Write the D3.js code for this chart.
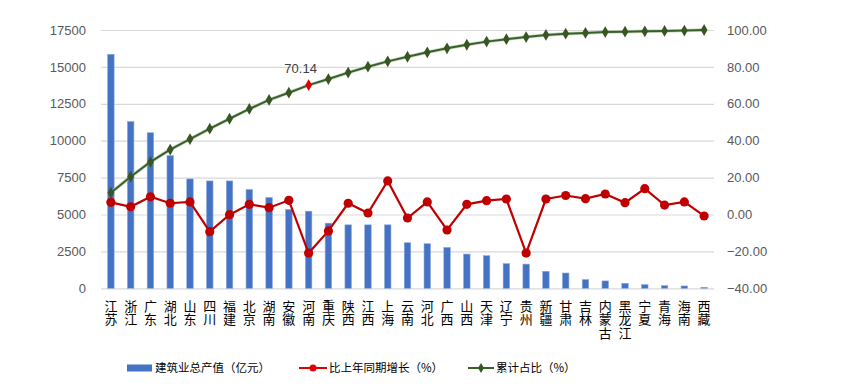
<!DOCTYPE html>
<html><head><meta charset="utf-8">
<script src="https://cdn.jsdelivr.net/npm/d3@7"></script>
<style>
body{margin:0;background:#fff;}
svg{display:block;}
</style></head>
<body><svg id="c" width="850" height="391"></svg>
<script>
const categories = ["江苏","浙江","广东","湖北","山东","四川","福建","北京","湖南","安徽","河南","重庆","陕西","江西","上海","云南","河北","广西","山西","天津","辽宁","贵州","新疆","甘肃","吉林","内蒙古","黑龙江","宁夏","青海","海南","西藏"];
const output = [15855,11300,10540,8986,7410,7275,7275,6690,6150,5340,5224,4412,4300,4300,4300,3087,3020,2770,2320,2210,1670,1640,1150,1035,590,500,340,250,180,160,70];
const growth = [6.6,4.2,9.6,6.1,6.8,-9.3,-0.1,5.5,3.7,7.7,-20.9,-8.9,6.1,0.8,18.2,-1.9,6.8,-8.4,5.5,7.5,8.4,-20.9,8.4,10.3,8.6,11.1,6.4,14.0,5.1,6.8,-0.8];
const cumShare = [11.8,20.5,28.5,35.2,40.9,46.5,51.9,57.2,62.1,66.0,70.14,73.4,76.9,80.1,83.0,85.5,87.9,90.1,92.0,93.7,95.0,96.2,97.3,98.0,98.4,98.9,99.1,99.3,99.5,99.7,100.0];
const leftTicks = [0,2500,5000,7500,10000,12500,15000,17500];
const rightTicks = [-40,-20,0,20,40,60,80,100];
const legendLabels = ["建筑业总产值（亿元）","比上年同期增长（%）","累计占比（%）"];
const highlightIndex = 10;

const svg = d3.select("#c");
const numFont = "'Liberation Sans', Arial, sans-serif";
const cjkFont = "'Noto Sans CJK SC', sans-serif";
const L = 101, R = 714, T = 30, B = 288.3;

const x = d3.scaleBand().domain(categories).range([L, R]).padding(0);
const yL = d3.scaleLinear().domain([0, 17500]).range([B, T]);
const yR = d3.scaleLinear().domain([-40, 100]).range([B, T]);
const cx = d => x(d) + x.bandwidth() / 2;

// gridlines
const grid = svg.append("g").attr("transform", `translate(${L},0)`)
  .call(d3.axisLeft(yL).tickValues(leftTicks).tickSize(-(R - L)).tickFormat(""));
grid.select(".domain").remove();
grid.selectAll("line").attr("stroke", "#d9d9d9").attr("stroke-width", 1.2);

// left axis
const ax = svg.append("g").attr("transform", `translate(${L},0)`)
  .call(d3.axisLeft(yL).tickValues(leftTicks).tickSize(0).tickPadding(15).tickFormat(d3.format("d")));
ax.select(".domain").remove();
ax.selectAll("text").attr("font-family", numFont).attr("font-size", 13).attr("fill", "#595959");

// right axis
const ar = svg.append("g").attr("transform", `translate(${R},0)`)
  .call(d3.axisRight(yR).tickValues(rightTicks).tickSize(0).tickPadding(13).tickFormat(d3.format(".2f")));
ar.select(".domain").remove();
ar.selectAll("text").attr("font-family", numFont).attr("font-size", 13).attr("fill", "#595959");

// bars
const bw = 6.5;
svg.append("g").selectAll("rect").data(categories).join("rect")
  .attr("x", (d) => cx(d) - bw / 2)
  .attr("width", bw)
  .attr("y", (d, i) => yL(output[i]))
  .attr("height", (d, i) => B - yL(output[i]))
  .attr("fill", "#4472c4")
  .attr("stroke", "#8eaadb").attr("stroke-width", 0.6);

// growth line
const lineG = d3.line().x((d, i) => cx(categories[i])).y(d => yR(d));
svg.append("path").datum(growth).attr("d", lineG)
  .attr("fill", "none").attr("stroke", "#c00000").attr("stroke-width", 2.2);
svg.append("g").selectAll("circle").data(growth).join("circle")
  .attr("cx", (d, i) => cx(categories[i])).attr("cy", d => yR(d)).attr("r", 4.6)
  .attr("fill", "#c00000");

// cumulative line
svg.append("path").datum(cumShare).attr("d", lineG)
  .attr("fill", "none").attr("stroke", "#a9c29a").attr("stroke-width", 3.5).attr("opacity", 0.6);
svg.append("path").datum(cumShare).attr("d", lineG)
  .attr("fill", "none").attr("stroke", "#38602a").attr("stroke-width", 2);
const diamond = d3.symbol().type(d3.symbolDiamond).size(40);
svg.append("g").selectAll("path").data(cumShare).join("path")
  .attr("d", diamond)
  .attr("transform", (d, i) => `translate(${cx(categories[i])},${yR(d)})`)
  .attr("fill", (d, i) => i === highlightIndex ? "#e00000" : "#375623");

svg.append("text")
  .attr("x", cx(categories[highlightIndex]) - 8)
  .attr("y", yR(cumShare[highlightIndex]) - 12.5)
  .attr("text-anchor", "middle")
  .attr("font-family", numFont).attr("font-size", 13).attr("fill", "#404040")
  .text(d3.format(".2f")(cumShare[highlightIndex]));

// x labels (vertical writing mode)
svg.append("g").selectAll("text").data(categories).join("text")
  .attr("x", d => cx(d)).attr("y", 299.5)
  .style("writing-mode", "vertical-rl")
  .style("text-orientation", "upright")
  .attr("text-anchor", "start")
  .attr("font-family", cjkFont).attr("font-size", 13).attr("fill", "#000")
  .attr("letter-spacing", 0.3)
  .text(d => d);

// legend
const lg = svg.append("g").attr("font-family", cjkFont).attr("font-size", 11.5).attr("fill", "#000");
lg.append("rect").attr("x", 127).attr("y", 364.5).attr("width", 25).attr("height", 7).attr("fill", "#4472c4");
lg.append("text").attr("x", 155).attr("y", 372).text(legendLabels[0]);
lg.append("line").attr("x1", 299).attr("x2", 327).attr("y1", 368).attr("y2", 368).attr("stroke", "#e00000").attr("stroke-width", 2);
lg.append("circle").attr("cx", 313).attr("cy", 368).attr("r", 3.5).attr("fill", "#e00000");
lg.append("text").attr("x", 329).attr("y", 372).text(legendLabels[1]);
lg.append("line").attr("x1", 468).attr("x2", 494).attr("y1", 368).attr("y2", 368).attr("stroke", "#38602a").attr("stroke-width", 2);
lg.append("path").attr("d", d3.symbol().type(d3.symbolDiamond).size(30)).attr("transform", "translate(481,368)").attr("fill", "#375623");
lg.append("text").attr("x", 496).attr("y", 372).text(legendLabels[2]);
</script></body></html>
